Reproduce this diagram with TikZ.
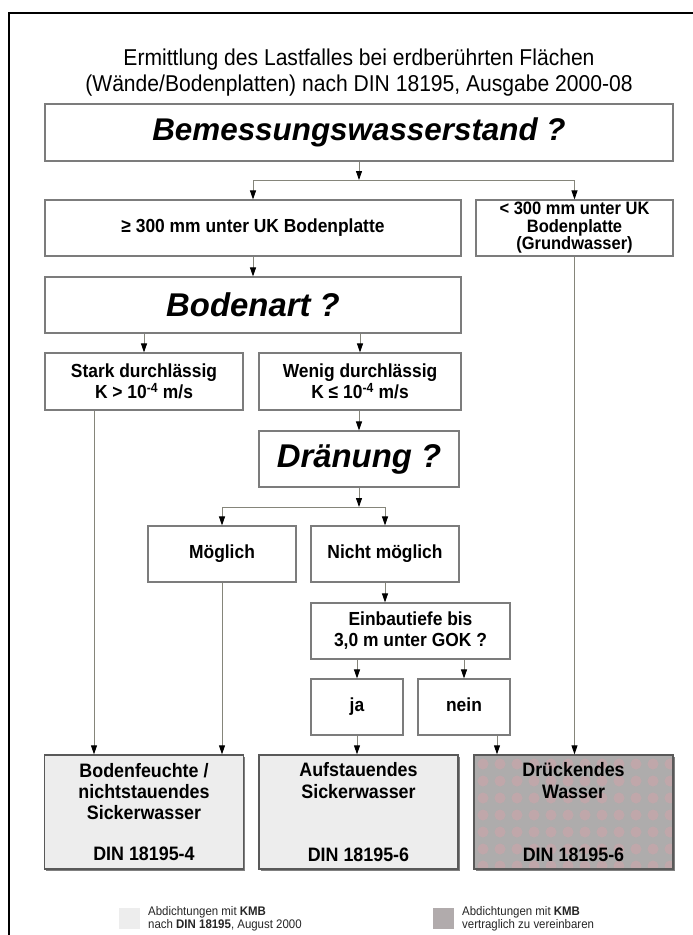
\documentclass[tikz,border=0pt]{standalone}
\usepackage{fontspec}
\setmainfont{Liberation Sans}[FakeStretch=0.92]
\newfontfamily\fragefont{Liberation Sans}
\usetikzlibrary{arrows.meta,shadows}

\definecolor{randgrau}{HTML}{7C7C7C}
\definecolor{liniengrau}{HTML}{85857A}
\definecolor{hellgrau}{HTML}{EDEDED}
\definecolor{mittelgrau}{HTML}{AEACAC}
\definecolor{punktrosa}{HTML}{C0A7AA}

\begin{document}
\begin{tikzpicture}[x=1bp,y=-1bp,
  kasten/.style={draw=randgrau,line width=1.1bp,inner sep=0pt,align=center,
    font=\bfseries\fontsize{19}{21}\selectfont},
  frage/.style={kasten,font=\fragefont\bfseries\itshape\fontsize{33}{36}\selectfont},
  ergebnis/.style={kasten,draw=black!65,line width=1.3bp,fill=hellgrau,
    minimum width=199bp,minimum height=114bp,font=\bfseries\fontsize{19.5}{21.5}\selectfont,
    drop shadow={shadow xshift=1.5bp,shadow yshift=-1.5bp,fill=black!50,opacity=1}},
  pfeil/.style={draw=liniengrau,line width=0.9bp,-{Triangle[width=6bp,length=9bp,color=black]}},
  legtext/.style={anchor=west,align=left,inner sep=0pt,text=black!85,
    font=\fontsize{12.5}{13.5}\selectfont}]
  \clip (0,0) rectangle (693,935);
  \fill[white] (0,0) rectangle (693,935);
  \draw[line width=2bp] (9,950) -- (9,13) -- (710,13);

  \node[align=center,font=\fontsize{23}{26}\selectfont] (titel) at (359,73)
    {Ermittlung des Lastfalles bei erdberührten Flächen\\(Wände/Bodenplatten) nach DIN 18195, Ausgabe 2000-08};

  % Fragen und Zweige
  \node[frage,minimum width=628bp,minimum height=57bp,font=\fragefont\bfseries\itshape\fontsize{31.5}{36}\selectfont] (wst) at (359,132.5) {Bemessungswasserstand ?};
  \node[kasten,minimum width=416bp,minimum height=56bp] (ueber) at (253,228) {\strut≥ 300 mm unter UK Bodenplatte};
  \node[kasten,minimum width=197bp,minimum height=56bp,font=\bfseries\fontsize{18}{17.5}\selectfont] (unter) at (574.5,228) {< 300 mm unter UK\\Bodenplatte\\(Grundwasser)};
  \node[frage,minimum width=416bp,minimum height=56bp] (bodenart) at (253,305) {Bodenart ?};
  \node[kasten,minimum width=198bp,minimum height=57bp] (stark) at (144,381.5) {Stark durchlässig\\K > 10\textsuperscript{-4} m/s};
  \node[kasten,minimum width=202bp,minimum height=57bp] (wenig) at (360,381.5) {Wenig durchlässig\\K ≤ 10\textsuperscript{-4} m/s};
  \node[frage,minimum width=200bp,minimum height=56bp] (draen) at (359,459) {Dränung ?};
  \node[kasten,minimum width=148bp,minimum height=56bp] (moegl) at (222,554) {\strut Möglich};
  \node[kasten,minimum width=148bp,minimum height=56bp] (nicht) at (385,554) {\strut Nicht möglich};
  \node[kasten,minimum width=199bp,minimum height=56bp] (tiefe) at (410.5,631) {Einbautiefe bis\\3,0 m unter GOK ?};
  \node[kasten,minimum width=92bp,minimum height=56bp] (ja) at (357,707) {\strut ja};
  \node[kasten,minimum width=92bp,minimum height=56bp] (nein) at (464,707) {\strut nein};

  % Lastfaelle
  \node[ergebnis] (feucht) at (144,812) {Bodenfeuchte /\\nichtstauendes\\Sickerwasser\\[19.5bp]DIN 18195-4};
  \node[ergebnis] (stau) at (358.5,812) {Aufstauendes\\Sickerwasser\\[41.5bp]DIN 18195-6};
  \node[ergebnis,fill=mittelgrau,path picture={
      \foreach \i in {0,...,11} \foreach \j in {0,...,6}
        \fill[punktrosa] ([xshift=\i*17bp+9bp,yshift=-\j*17bp-9bp]path picture bounding box.north west) circle (5.5bp);
    }] (druck) at (573.5,812) {Drückendes\\Wasser\\[41.5bp]DIN 18195-6};

  \coordinate (gabel1) at (359,180);
  \coordinate (gabel2) at (359,507);

  \draw[pfeil] (wst) -- (gabel1);
  \draw[pfeil] (gabel1) -| (ueber);
  \draw[pfeil] (gabel1) -| (unter);
  \draw[pfeil] (ueber) -- (bodenart);
  \draw[pfeil] (bodenart.south -| stark) -- (stark);
  \draw[pfeil] (bodenart.south -| wenig) -- (wenig);
  \draw[pfeil] (wenig.south -| draen) -- (draen);
  \draw[pfeil] (draen) -- (gabel2);
  \draw[pfeil] (gabel2) -| (moegl);
  \draw[pfeil] (gabel2) -| (nicht);
  \draw[pfeil] (nicht) -- (nicht.south |- tiefe.north);
  \draw[pfeil] (tiefe.south -| ja) -- (ja);
  \draw[pfeil] (tiefe.south -| nein) -- (nein);
  \draw[pfeil] (ja) -- (ja |- stau.north);
  \draw[pfeil] ([xshift=33bp]nein.south) -- ([xshift=33bp]nein.south |- druck.north);
  \draw[pfeil] (unter) -- (unter |- druck.north);
  \draw[pfeil] ([xshift=-50bp]stark.south) -- ([xshift=-50bp]stark.south |- feucht.north);
  \draw[pfeil] (moegl) -- (moegl |- feucht.north);

  % Legende
  \node[fill=hellgrau,minimum size=21bp,inner sep=0pt] (leg1) at (129,918) {};
  \node[legtext] (legtext1) at (148,919) {Abdichtungen mit \textbf{KMB}\\nach \textbf{DIN 18195}, August 2000};
  \node[fill=mittelgrau!85!punktrosa,minimum size=21bp,inner sep=0pt] (leg2) at (443.5,918.5) {};
  \node[legtext] (legtext2) at (462,919) {Abdichtungen mit \textbf{KMB}\\vertraglich zu vereinbaren};
\end{tikzpicture}
\end{document}
